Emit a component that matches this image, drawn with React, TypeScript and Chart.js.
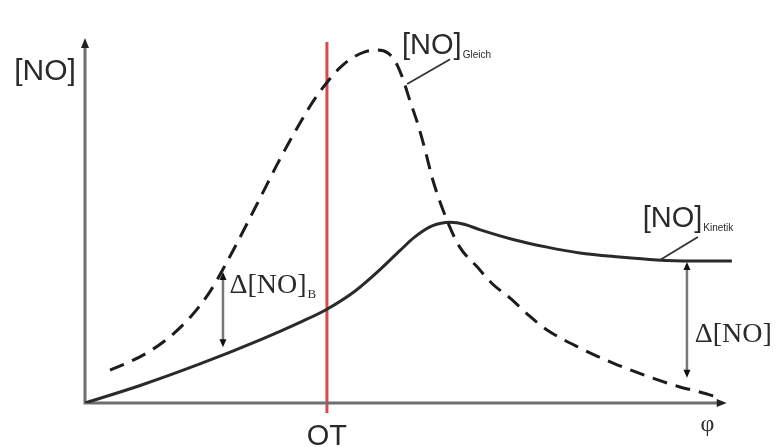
import React, { useEffect, useRef } from "react";
import { Chart, registerables } from "chart.js";

Chart.register(...registerables);

// crank angle φ (schematic units 0..100) and [NO] (schematic units 0..100)
const phiGleich = [3.9, 7.0, 10.1, 13.2, 16.4, 19.5, 22.6, 27.3, 30.4, 33.5, 35.8, 37.7, 39.7, 41.6, 43.6, 45.6, 47.2, 48.4, 49.5, 50.6, 51.9, 53.0, 54.2, 56.4, 58.4, 61.1, 63.5, 66.2, 69.3, 72.0, 77.1, 82.2, 88.0, 92.7, 95.8, 98.9];
const noGleich = [9.0, 11.3, 14.2, 18.1, 23.5, 30.6, 40.2, 56.2, 66.9, 76.7, 83.3, 87.8, 91.8, 94.5, 96.2, 96.7, 95.9, 93.4, 89.0, 83.0, 76.2, 69.3, 61.1, 50.1, 42.7, 37.3, 32.6, 28.8, 23.8, 20.0, 15.1, 11.0, 7.1, 4.4, 3.0, 1.4];

const phiKinetik = [0, 8.6, 17.9, 27.3, 33.5, 37.7, 42.1, 46.0, 49.1, 51.4, 54.1, 56.9, 59.2, 61.5, 66.7, 72.0, 77.1, 83.3, 89.1, 94.2, 100.8];
const noKinetik = [0, 4.8, 10.7, 17.3, 22.1, 25.7, 30.7, 36.6, 41.8, 45.5, 48.5, 49.5, 48.9, 47.5, 44.8, 42.7, 41.1, 40.0, 39.2, 38.9, 38.9];

const phiOT = 37.7;
const phiAxisEnd = 100;
const noAxisEnd = 100;
// Δ[NO] markers: [φ, top, bottom]
const deltaB = [21.5, 35.9, 15.3];
const deltaEnd = [93.8, 38.6, 6.9];

const toPts = (xs: number[], ys: number[]) => xs.map((x, i) => ({ x, y: ys[i] }));

function arrowHead(ctx: CanvasRenderingContext2D, x: number, y: number, dx: number, dy: number, len: number, half: number) {
  const n = Math.hypot(dx, dy);
  const ux = dx / n, uy = dy / n;
  ctx.beginPath();
  ctx.moveTo(x, y);
  ctx.lineTo(x - ux * len - uy * half, y - uy * len + ux * half);
  ctx.lineTo(x - ux * len + uy * half, y - uy * len - ux * half);
  ctx.closePath();
  ctx.fill();
}

function label(ctx: CanvasRenderingContext2D, main: string, sub: string, x: number, y: number, font: string, subFont: string, subDy: number) {
  ctx.font = font;
  ctx.textAlign = "left";
  ctx.textBaseline = "alphabetic";
  ctx.fillText(main, x, y);
  const w = ctx.measureText(main).width;
  ctx.font = subFont;
  ctx.fillText(sub, x + w + 1, y + subDy);
}

const schematic = {
  id: "schematic",
  beforeDatasetsDraw(chart: any) {
    const ctx = chart.ctx as CanvasRenderingContext2D;
    const xs = chart.scales.x, ys = chart.scales.y;
    const x0 = xs.getPixelForValue(0), y0 = ys.getPixelForValue(0);
    const xEnd = xs.getPixelForValue(phiAxisEnd), yEnd = ys.getPixelForValue(noAxisEnd);
    ctx.save();
    // red OT line
    const xo = xs.getPixelForValue(phiOT);
    ctx.strokeStyle = "rgb(222,72,72)";
    ctx.lineWidth = 3;
    ctx.beginPath();
    ctx.moveTo(xo, yEnd + 4);
    ctx.lineTo(xo, y0 + 10);
    ctx.stroke();
    // axes
    ctx.strokeStyle = "#6f6f6f";
    ctx.lineWidth = 3;
    ctx.beginPath();
    ctx.moveTo(x0, yEnd + 6);
    ctx.lineTo(x0, y0);
    ctx.lineTo(xEnd - 6, y0);
    ctx.stroke();
    ctx.fillStyle = "#222";
    arrowHead(ctx, x0, yEnd, 0, -1, 10, 4);
    arrowHead(ctx, xEnd, y0, 1, 0, 10, 4);
    ctx.restore();
  },
  afterDatasetsDraw(chart: any) {
    const ctx = chart.ctx as CanvasRenderingContext2D;
    const xs = chart.scales.x, ys = chart.scales.y;
    const px = (v: number) => xs.getPixelForValue(v);
    const py = (v: number) => ys.getPixelForValue(v);
    ctx.save();
    // Δ double arrows
    for (const d of [deltaB, deltaEnd]) {
      const x = px(d[0]), t = py(d[1]), b = py(d[2]);
      ctx.strokeStyle = "#777";
      ctx.lineWidth = 2.5;
      ctx.beginPath();
      ctx.moveTo(x, t + 4);
      ctx.lineTo(x, b - 4);
      ctx.stroke();
      ctx.fillStyle = "#111";
      arrowHead(ctx, x, t, 0, -1, 8, 3.5);
      arrowHead(ctx, x, b, 0, 1, 8, 3.5);
    }
    // leader lines
    ctx.strokeStyle = "#333";
    ctx.lineWidth = 1.8;
    ctx.beginPath();
    ctx.moveTo(px(56.9), py(94.2));
    ctx.lineTo(px(50.2), py(87.4));
    ctx.moveTo(px(95.5), py(45.5));
    ctx.lineTo(px(89.6), py(39.2));
    ctx.stroke();

    ctx.fillStyle = "#2a2a2a";
    const sans = "'Liberation Sans', Arial, sans-serif";
    const serif = "'Liberation Serif', 'Times New Roman', serif";
    // y-axis label
    ctx.font = `30px ${sans}`;
    ctx.textAlign = "center";
    ctx.textBaseline = "alphabetic";
    ctx.fillText("[NO]", px(0) - 40, py(noAxisEnd) + 42);
    // curve labels
    label(ctx, "[NO]", "Gleich", px(49.4), py(95.6), `29px ${sans}`, `10px ${sans}`, 4);
    label(ctx, "[NO]", "Kinetik", px(86.9), py(48.2), `29px ${sans}`, `10px ${sans}`, 4);
    label(ctx, "Δ[NO]", "B", px(22.5), py(30.1), `28px ${serif}`, `13px ${serif}`, 5);
    label(ctx, "Δ[NO]", "", px(95.0), py(16.7), `28px ${serif}`, `13px ${serif}`, 5);
    // x labels
    ctx.font = `29px ${sans}`;
    ctx.textAlign = "center";
    ctx.fillText("OT", px(phiOT), py(0) + 42);
    ctx.font = `24px ${serif}`;
    ctx.textBaseline = "middle";
    ctx.fillText("φ", px(97), py(0) + 22);
    ctx.restore();
  },
};

export default function App() {
  const ref = useRef<HTMLCanvasElement>(null);
  useEffect(() => {
    const chart = new Chart(ref.current!, {
      type: "line",
      data: {
        datasets: [
          {
            label: "[NO]Gleich",
            data: toPts(phiGleich, noGleich),
            borderColor: "#1c1c1c",
            borderWidth: 3,
            borderDash: [15, 9],
            pointRadius: 0,
            cubicInterpolationMode: "monotone",
            fill: false,
          },
          {
            label: "[NO]Kinetik",
            data: toPts(phiKinetik, noKinetik),
            borderColor: "#2a2a2a",
            borderWidth: 3,
            pointRadius: 0,
            cubicInterpolationMode: "monotone",
            fill: false,
          },
        ],
      },
      options: {
        responsive: false,
        animation: false,
        layout: { padding: { left: 85, right: 38, top: 38, bottom: 44 } },
        plugins: { legend: { display: false }, tooltip: { enabled: false } },
        scales: {
          x: { type: "linear", min: 0, max: 103, display: false },
          y: { type: "linear", min: 0, max: 100, display: false },
        },
      },
      plugins: [schematic],
    } as any);
    return () => chart.destroy();
  }, []);
  return (
    <div style={{ position: "fixed", left: 0, top: 0, width: 784, height: 447, background: "#fff" }}>
      <canvas ref={ref} width={784} height={447} style={{ width: 784, height: 447, display: "block" }} />
    </div>
  );
}
